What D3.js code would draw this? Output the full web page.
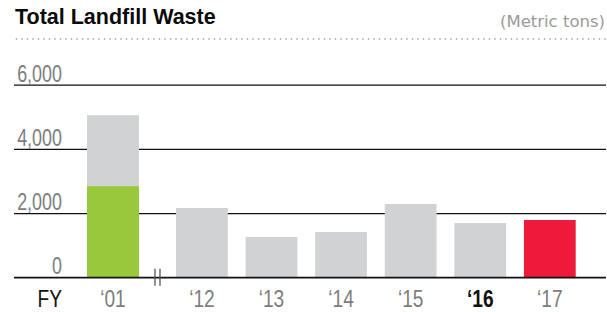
<!DOCTYPE html>
<html>
<head>
<meta charset="utf-8">
<script src="https://cdn.jsdelivr.net/npm/d3@7"></script>
<style>
  html, body { margin: 0; padding: 0; background: #fff; }
  svg { display: block; }
  .num { font-family: "Liberation Sans", Arial, sans-serif; }
</style>
</head>
<body>
<div id="chart"></div>
<script>
// data
const title = 'Total Landfill Waste';
const unit = '(Metric tons)';
const baseYear = ['\u201801'];
const baseLandfill = [2840];   // green part of FY01
const baseTotal = [5050];      // full FY01 bar
const years = ['\u201812', '\u201813', '\u201814', '\u201815', '\u201816', '\u201817'];
const waste = [2160, 1255, 1410, 2285, 1690, 1785];
const yTicks = [0, 2000, 4000, 6000];

const width = 607;
const height = 312;
// no condensed face installed, so squeeze the numbers horizontally
const squeeze = 0.78;

const svg = d3.select('#chart')
  .append('svg')
  .attr('width', width)
  .attr('height', height);

// header
svg.append('text')
  .attr('x', 15)
  .attr('y', 24)
  .style('font-family', '"Liberation Sans", Arial, sans-serif')
  .style('font-weight', 'bold')
  .style('font-size', '21.5px')
  .attr('fill', '#0a0a0a')
  .text(title);

svg.append('text')
  .attr('x', 605)
  .attr('y', 26.5)
  .attr('text-anchor', 'end')
  .style('font-family', '"DejaVu Sans", sans-serif')
  .style('font-size', '16.5px')
  .attr('fill', '#9a9a9a')
  .text(unit);

svg.append('line')
  .attr('x1', 16.5)
  .attr('x2', 606)
  .attr('y1', 39)
  .attr('y2', 39)
  .attr('stroke', '#b3b3b3')
  .attr('stroke-width', 1.8)
  .attr('stroke-linecap', 'round')
  .attr('stroke-dasharray', '0,5.5');

// scales
const y = d3.scaleLinear().domain([0, 6000]).range([277.3, 84.7]);

const xBase = d3.scaleBand().domain(baseYear).range([87, 139]).padding(0);
const x = d3.scaleBand().domain(years).range([176, 575.7]).paddingInner(0.256).paddingOuter(0);

// y axis as gridlines with labels above
const yAxis = d3.axisLeft(y).tickValues(yTicks).tickSize(0).tickFormat(d3.format(','));
const gy = svg.append('g')
  .attr('transform', 'translate(14,0)')
  .call(yAxis);
gy.select('.domain').remove();
gy.selectAll('.tick line')
  .attr('x1', 0)
  .attr('x2', 592)
  .attr('stroke', '#111')
  .attr('stroke-width', 1.3);
gy.selectAll('.tick text')
  .attr('class', 'num')
  .attr('x', 48 / squeeze)
  .attr('dy', -3.5)
  .attr('transform', `scale(${squeeze},1)`)
  .attr('text-anchor', 'end')
  .attr('fill', '#7d7d7d')
  .style('font-size', '23px');

// bars
svg.append('rect')
  .attr('x', xBase(baseYear[0]))
  .attr('width', xBase.bandwidth())
  .attr('y', y(baseTotal[0]))
  .attr('height', y(baseLandfill[0]) - y(baseTotal[0]))
  .attr('fill', '#d1d2d4');

svg.append('rect')
  .attr('x', xBase(baseYear[0]))
  .attr('width', xBase.bandwidth())
  .attr('y', y(baseLandfill[0]))
  .attr('height', y(0) - y(baseLandfill[0]))
  .attr('fill', '#99c83c');

svg.selectAll('.bar')
  .data(years)
  .enter().append('rect')
  .attr('class', 'bar')
  .attr('x', d => x(d))
  .attr('width', x.bandwidth())
  .attr('y', (d, i) => y(waste[i]))
  .attr('height', (d, i) => y(0) - y(waste[i]))
  .attr('fill', (d, i) => i === years.length - 1 ? '#ed1a3b' : '#d1d2d4');

// baseline on top of bars
svg.append('line')
  .attr('x1', 14)
  .attr('x2', 606)
  .attr('y1', y(0))
  .attr('y2', y(0))
  .attr('stroke', '#111')
  .attr('stroke-width', 1.3);

// axis break mark
const bx = (xBase.range()[1] + x.range()[0]) / 2;
[-2.5, 2.5].forEach(o => {
  svg.append('line')
    .attr('x1', bx + o)
    .attr('x2', bx + o)
    .attr('y1', y(0) - 8.5)
    .attr('y2', y(0) + 8.5)
    .attr('stroke', '#555')
    .attr('stroke-width', 1.3);
});

// x axes
function styleX(g, highlight) {
  g.select('.domain').remove();
  g.selectAll('.tick line').remove();
  g.selectAll('.tick text')
    .attr('class', 'num')
    .attr('y', 30)
    .attr('dy', 0)
    .attr('transform', `scale(${squeeze},1)`)
    .style('font-size', '24.5px')
    .attr('fill', d => d === highlight ? '#111' : '#7d7d7d')
    .style('font-weight', d => d === highlight ? 'bold' : 'normal');
}

svg.append('g')
  .attr('transform', `translate(0,${y(0)})`)
  .call(d3.axisBottom(xBase).tickSize(0))
  .call(g => styleX(g, null));

svg.append('g')
  .attr('transform', `translate(0,${y(0)})`)
  .call(d3.axisBottom(x).tickSize(0))
  .call(g => styleX(g, years[4]));

svg.append('text')
  .attr('class', 'num')
  .attr('x', 62 / squeeze)
  .attr('y', y(0) + 30)
  .attr('transform', `scale(${squeeze},1)`)
  .attr('text-anchor', 'end')
  .style('font-size', '24.5px')
  .attr('fill', '#111')
  .text('FY');
</script>
</body>
</html>
